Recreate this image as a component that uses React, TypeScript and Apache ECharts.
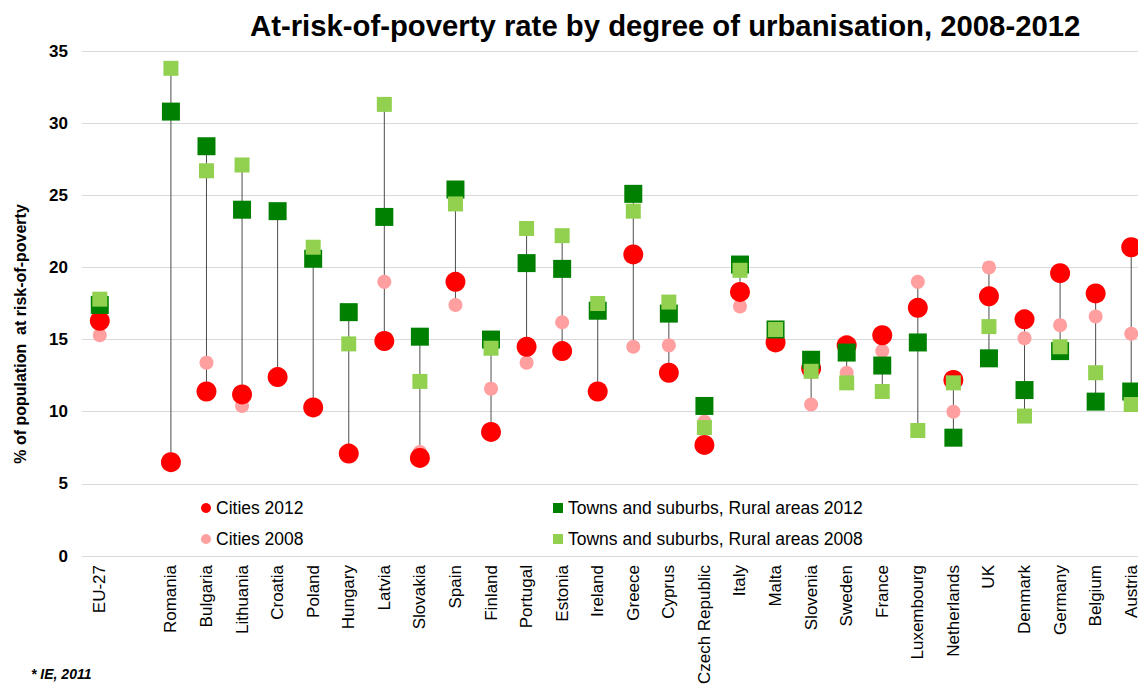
import React, { useEffect, useRef } from "react";
import * as echarts from "echarts";

const categories = [
  "EU-27", "", "Romania", "Bulgaria", "Lithuania", "Croatia", "Poland", "Hungary", "Latvia",
  "Slovakia", "Spain", "Finland", "Portugal", "Estonia", "Ireland", "Greece", "Cyprus",
  "Czech Republic", "Italy", "Malta", "Slovenia", "Sweden", "France", "Luxembourg",
  "Netherlands", "UK", "Denmark", "Germany", "Belgium", "Austria",
];

const cities2012 = [16.3, null, 6.5, 11.4, 11.2, 12.4, 10.3, 7.1, 14.9, 6.8, 19.0, 8.6, 14.5, 14.2, 11.4, 20.9, 12.7, 7.7, 18.3, 14.8, 13.0, 14.6, 15.3, 17.2, 12.2, 18.0, 16.4, 19.6, 18.2, 21.4];
const cities2008 = [15.3, null, null, 13.4, 10.4, null, null, null, 19.0, 7.2, 17.4, 11.6, 13.4, 16.2, null, 14.5, 14.6, 9.3, 17.3, null, 10.5, 12.7, 14.2, 19.0, 10.0, 20.0, 15.1, 16.0, 16.6, 15.4];
const towns2012 = [17.4, null, 30.8, 28.4, 24.0, 23.9, 20.6, 16.9, 23.5, 15.2, 25.4, 15.0, 20.3, 19.9, 17.0, 25.1, 16.8, 10.4, 20.2, 15.7, 13.6, 14.1, 13.2, 14.8, 8.2, 13.7, 11.5, 14.2, 10.7, 11.4];
const towns2008 = [17.8, null, 33.8, 26.7, 27.1, null, 21.4, 14.7, 31.3, 12.1, 24.4, 14.4, 22.7, 22.2, 17.5, 23.9, 17.6, 8.9, 19.8, 15.7, 12.8, 12.0, 11.4, 8.7, 12.0, 15.9, 9.7, 14.5, 12.7, 10.5];

const yTicks = [0, 5, 10, 15, 20, 25, 30, 35];

const FONT = "'Liberation Sans', Arial, sans-serif";

export default function App() {
  const ref = useRef<HTMLDivElement>(null);

  useEffect(() => {
    if (!ref.current) return;
    const chart = echarts.init(ref.current, undefined, { renderer: "svg" });

    const rangeData: any[] = [];
    categories.forEach((_, i) => {
      const vals = [cities2012[i], cities2008[i], towns2012[i], towns2008[i]].filter(
        (v) => v !== null && v !== undefined
      ) as number[];
      if (vals.length > 1) rangeData.push([i, Math.min(...vals), Math.max(...vals)]);
    });

    const toData = (arr: (number | null)[]) => arr.map((v) => (v === null ? "-" : v));

    chart.setOption({
      animation: false,
      backgroundColor: "#ffffff",
      textStyle: { fontFamily: FONT },
      grid: {
        left: 82,
        top: 51,
        width: 1067,
        height: 505,
        containLabel: false,
        outerBoundsMode: "none",
      },
      graphic: [
        {
          type: "text",
          left: 250,
          top: 11,
          style: {
            text: "At-risk-of-poverty rate by degree of urbanisation, 2008-2012",
            font: `bold 29.3px ${FONT}`,
            fill: "#000",
          },
        },
        {
          type: "text",
          x: 20,
          y: 334,
          rotation: Math.PI / 2,
          style: {
            text: "% of population  at risk-of-poverty",
            font: `bold 16px ${FONT}`,
            fill: "#000",
            align: "center",
            verticalAlign: "middle",
          },
        },
        {
          type: "text",
          left: 31,
          top: 667,
          style: {
            text: "* IE, 2011",
            font: `italic bold 14px ${FONT}`,
            fill: "#000",
          },
        },
      ],
      legend: [
        {
          orient: "vertical",
          left: 196,
          top: 494,
          itemWidth: 10,
          itemHeight: 10,
          itemGap: 13,
          textStyle: { fontSize: 17.5, color: "#000", fontFamily: FONT },
          data: [
            { name: "Cities 2012", icon: "circle" },
            { name: "Cities 2008", icon: "circle" },
          ],
        },
        {
          orient: "vertical",
          left: 548,
          top: 494,
          itemWidth: 10,
          itemHeight: 10,
          itemGap: 13,
          textStyle: { fontSize: 17.5, color: "#000", fontFamily: FONT },
          data: [
            { name: "Towns and suburbs, Rural areas 2012", icon: "rect" },
            { name: "Towns and suburbs, Rural areas 2008", icon: "rect" },
          ],
        },
      ],
      xAxis: {
        type: "category",
        data: categories,
        boundaryGap: true,
        axisLine: { show: false },
        axisTick: { show: false },
        axisLabel: {
          interval: 0,
          rotate: 90,
          fontSize: 17,
          color: "#000",
          fontFamily: FONT,
          margin: 9,
        },
        splitLine: { show: false },
      },
      yAxis: {
        type: "value",
        min: yTicks[0],
        max: yTicks[yTicks.length - 1],
        interval: 5,
        axisLine: { show: false },
        axisTick: { show: false },
        axisLabel: {
          fontSize: 17,
          fontWeight: "bold",
          color: "#000",
          fontFamily: FONT,
          margin: 14,
        },
        splitLine: { lineStyle: { color: "#d9d9d9", width: 1 } },
      },
      series: [
        {
          type: "custom",
          name: "range",
          z: 1,
          silent: true,
          encode: { x: 0, y: [1, 2] },
          data: rangeData,
          renderItem: (params: any, api: any) => {
            const x = api.value(0);
            const p1 = api.coord([x, api.value(1)]);
            const p2 = api.coord([x, api.value(2)]);
            return {
              type: "line",
              shape: { x1: p1[0], y1: p1[1], x2: p2[0], y2: p2[1] },
              style: { stroke: "#4d4d4d", lineWidth: 1 },
            };
          },
        },
        {
          type: "scatter",
          name: "Cities 2008",
          z: 2,
          symbol: "circle",
          symbolSize: 14,
          itemStyle: { color: "#ff9f9f", opacity: 1 },
          data: toData(cities2008),
        },
        {
          type: "scatter",
          name: "Cities 2012",
          z: 3,
          symbol: "circle",
          symbolSize: 20,
          itemStyle: { color: "#ff0000", opacity: 1 },
          data: toData(cities2012),
        },
        {
          type: "scatter",
          name: "Towns and suburbs, Rural areas 2012",
          z: 4,
          symbol: "rect",
          symbolSize: 18,
          itemStyle: { color: "#008000", opacity: 1 },
          data: toData(towns2012),
        },
        {
          type: "scatter",
          name: "Towns and suburbs, Rural areas 2008",
          z: 5,
          symbol: "rect",
          symbolSize: 15,
          itemStyle: { color: "#92d050", opacity: 1 },
          data: toData(towns2008),
        },
      ],
    });

    return () => chart.dispose();
  }, []);

  return (
    <div
      ref={ref}
      style={{ position: "fixed", left: 0, top: 0, width: 1138, height: 684, background: "#fff" }}
    />
  );
}
